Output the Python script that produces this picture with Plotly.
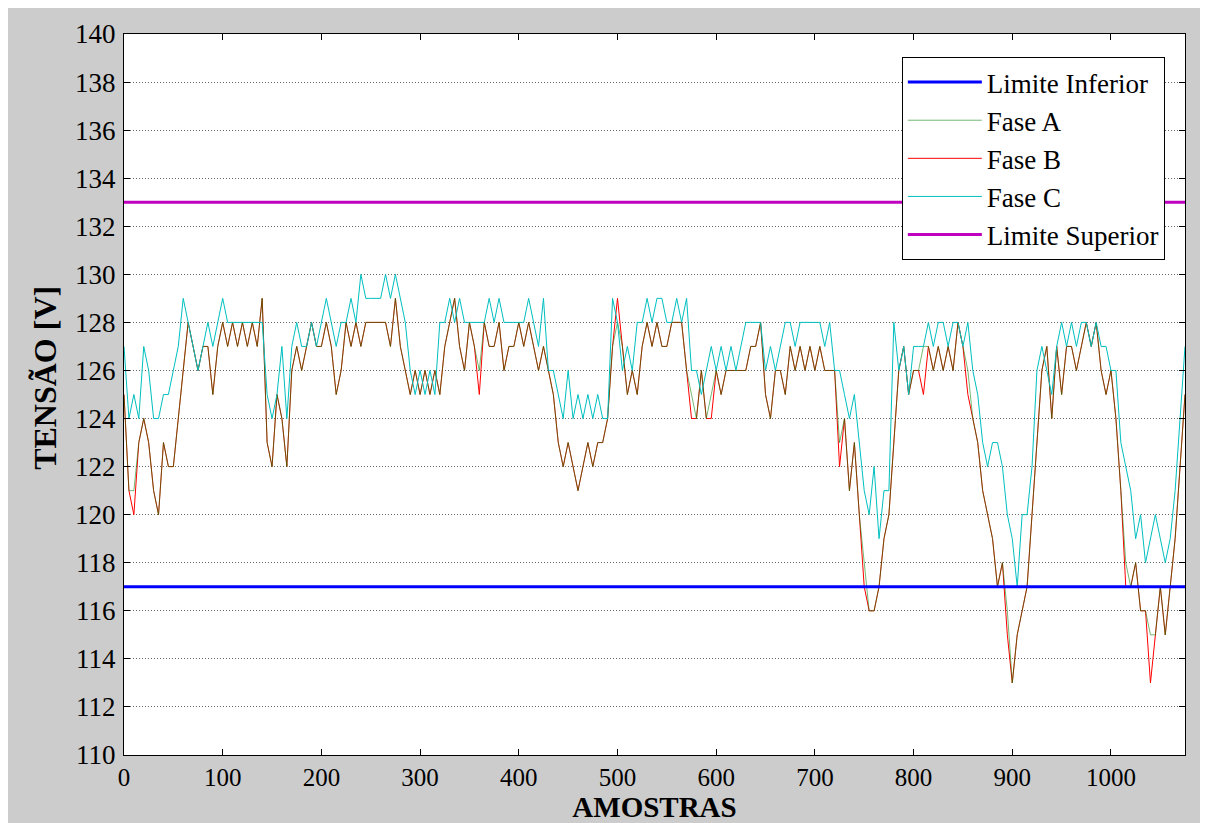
import plotly.graph_objects as go

# sample index (every 5 samples)
amostras = list(range(0, 1076, 5))

fase_a = [
    125, 121, 121, 123, 124, 123, 121, 120, 123, 122, 122, 124, 126, 128, 127, 126, 127, 127, 125, 127,
    128, 127, 128, 127, 128, 127, 128, 127, 129, 123, 122, 125, 124, 122, 126, 127, 126, 127, 128, 127,
    127, 128, 127, 125, 126, 128, 127, 128, 127, 128, 128, 128, 128, 128, 127, 129, 127, 126, 125, 126,
    125, 126, 125, 126, 125, 127, 128, 129, 127, 126, 128, 127, 126, 128, 127, 127, 128, 126, 127, 127,
    128, 127, 128, 127, 126, 127, 126, 125, 123, 122, 123, 122, 121, 122, 123, 122, 123, 123, 124, 127,
    128, 127, 125, 126, 125, 127, 128, 127, 128, 127, 127, 128, 128, 128, 126, 125, 124, 126, 124, 125,
    126, 125, 126, 126, 126, 126, 126, 127, 127, 128, 125, 124, 126, 126, 125, 127, 126, 127, 126, 127,
    126, 127, 126, 126, 126, 123, 124, 121, 123, 120, 118, 116, 116, 117, 119, 120, 123, 126, 127, 125,
    126, 126, 127, 127, 126, 127, 126, 127, 126, 128, 127, 126, 124, 123, 121, 120, 119, 117, 118, 116,
    113, 115, 116, 117, 120, 123, 126, 127, 124, 127, 125, 127, 127, 126, 127, 128, 127, 128, 126, 125,
    126, 124, 121, 118, 117, 118, 116, 116, 115, 115, 117, 115, 117, 119, 122, 125,
]

fase_b = [
    125, 121, 120, 123, 124, 123, 121, 120, 123, 122, 122, 124, 126, 128, 127, 126, 127, 127, 125, 127,
    128, 127, 128, 127, 128, 127, 128, 127, 129, 123, 122, 125, 124, 122, 126, 127, 126, 127, 128, 127,
    127, 128, 127, 125, 126, 128, 127, 128, 127, 128, 128, 128, 128, 128, 127, 129, 127, 126, 125, 126,
    125, 126, 125, 126, 125, 127, 128, 129, 127, 126, 128, 127, 125, 128, 127, 127, 128, 126, 127, 127,
    128, 127, 128, 127, 126, 127, 126, 125, 123, 122, 123, 122, 121, 122, 123, 122, 123, 123, 124, 127,
    129, 127, 125, 126, 125, 127, 128, 127, 128, 127, 127, 128, 128, 128, 126, 124, 124, 126, 124, 124,
    126, 125, 126, 126, 126, 126, 126, 127, 127, 128, 125, 124, 126, 126, 125, 127, 126, 127, 126, 127,
    126, 127, 126, 126, 126, 122, 124, 121, 123, 120, 117, 116, 116, 117, 119, 120, 123, 126, 127, 125,
    126, 126, 125, 127, 126, 127, 126, 127, 126, 128, 127, 125, 124, 123, 121, 120, 119, 117, 118, 115,
    113, 115, 116, 117, 120, 123, 126, 127, 124, 127, 125, 127, 127, 126, 127, 128, 127, 128, 126, 125,
    126, 124, 121, 117, 117, 118, 116, 116, 113, 115, 117, 115, 117, 119, 122, 125,
]

fase_c = [
    127, 124, 125, 124, 127, 126, 124, 124, 125, 125, 126, 127, 129, 128, 127, 126, 127, 128, 127, 128,
    129, 128, 128, 128, 128, 128, 128, 128, 128, 125, 124, 125, 127, 124, 127, 128, 127, 127, 128, 127,
    128, 129, 128, 127, 128, 128, 129, 128, 130, 129, 129, 129, 129, 130, 129, 130, 129, 128, 126, 125,
    126, 125, 126, 125, 128, 128, 129, 128, 129, 128, 128, 128, 128, 128, 129, 128, 129, 128, 128, 128,
    128, 128, 129, 128, 127, 129, 126, 126, 125, 124, 126, 124, 125, 124, 125, 124, 125, 124, 124, 129,
    128, 126, 127, 126, 128, 128, 129, 128, 129, 129, 128, 128, 129, 128, 129, 126, 126, 125, 126, 127,
    126, 127, 126, 127, 126, 127, 128, 128, 128, 128, 126, 127, 126, 127, 128, 128, 127, 128, 128, 128,
    128, 128, 127, 128, 126, 126, 125, 124, 125, 123, 121, 120, 122, 119, 121, 121, 128, 126, 127, 125,
    127, 127, 127, 128, 127, 128, 128, 127, 128, 128, 127, 128, 126, 125, 123, 122, 123, 123, 122, 120,
    119, 117, 120, 120, 122, 126, 127, 126, 125, 127, 128, 127, 128, 127, 128, 128, 127, 128, 127, 127,
    126, 126, 123, 122, 121, 119, 120, 118, 119, 120, 119, 118, 119, 121, 124, 127,
]

limite_x = [0, 1075]
limite_inferior = [117, 117]
limite_superior = [133, 133]

y_ticks = list(range(110, 141, 2))
x_ticks = list(range(0, 1001, 100))

SERIF = "Liberation Serif, Times New Roman, serif"

fig = go.Figure()

fig.add_trace(go.Scatter(x=amostras, y=fase_b, mode="lines", name="Fase B",
                         line=dict(color="rgba(255,0,0,1)", width=1), legendrank=3))
fig.add_trace(go.Scatter(x=amostras, y=fase_a, mode="lines", name="Fase A",
                         line=dict(color="rgba(0,128,0,0.55)", width=1), legendrank=2))
fig.add_trace(go.Scatter(x=amostras, y=fase_c, mode="lines", name="Fase C",
                         line=dict(color="#00BFBF", width=1), legendrank=4))
fig.add_trace(go.Scatter(x=limite_x, y=limite_inferior, mode="lines", name="Limite Inferior",
                         line=dict(color="#0000FF", width=3), legendrank=1))
fig.add_trace(go.Scatter(x=limite_x, y=limite_superior, mode="lines", name="Limite Superior",
                         line=dict(color="#BF00BF", width=3), legendrank=5))

# page body adds an 8px offset; figure is sized to fill the rest of the window
fig.update_layout(
    template="none",
    width=1200, height=815,
    margin=dict(l=116, r=23, t=26, b=68),
    paper_bgcolor="#cccccc",
    plot_bgcolor="white",
    font=dict(family=SERIF, size=27, color="black"),
    showlegend=True,
    legend=dict(
        x=0.981, xanchor="right", y=0.968, yanchor="top",
        bgcolor="white", bordercolor="black", borderwidth=1,
        font=dict(family=SERIF, size=27, color="black"),
        itemwidth=74,
    ),
    annotations=[
        dict(text="TENSÃO [V]", xref="paper", yref="paper", x=-0.0745, y=0.523,
             xanchor="center", yanchor="middle", textangle=-90, showarrow=False,
             font=dict(family=SERIF, size=32, color="black", weight="bold")),
    ],
)

fig.update_xaxes(
    range=[0, 1075], tickmode="array", tickvals=x_ticks, ticktext=[str(v) for v in x_ticks],
    ticks="inside", ticklen=6, tickcolor="black",
    showline=True, linecolor="black", linewidth=1, mirror="ticks", showgrid=False, zeroline=False,
    tickfont=dict(family=SERIF, size=25, color="black"),
    title=dict(text="AMOSTRAS", font=dict(family=SERIF, size=29, color="black", weight="bold"),
               standoff=7),
)
fig.update_yaxes(
    range=[110, 140], tickmode="array", tickvals=y_ticks, ticktext=[str(v) for v in y_ticks],
    ticks="inside", ticklen=6, tickcolor="black", ticklabelstandoff=2,
    showline=True, linecolor="black", linewidth=1, mirror="ticks",
    showgrid=True, gridcolor="#666666", griddash="1px,2px", gridwidth=1, zeroline=False,
    tickfont=dict(family=SERIF, size=27, color="black"),
)

fig.write_html("out.html")
